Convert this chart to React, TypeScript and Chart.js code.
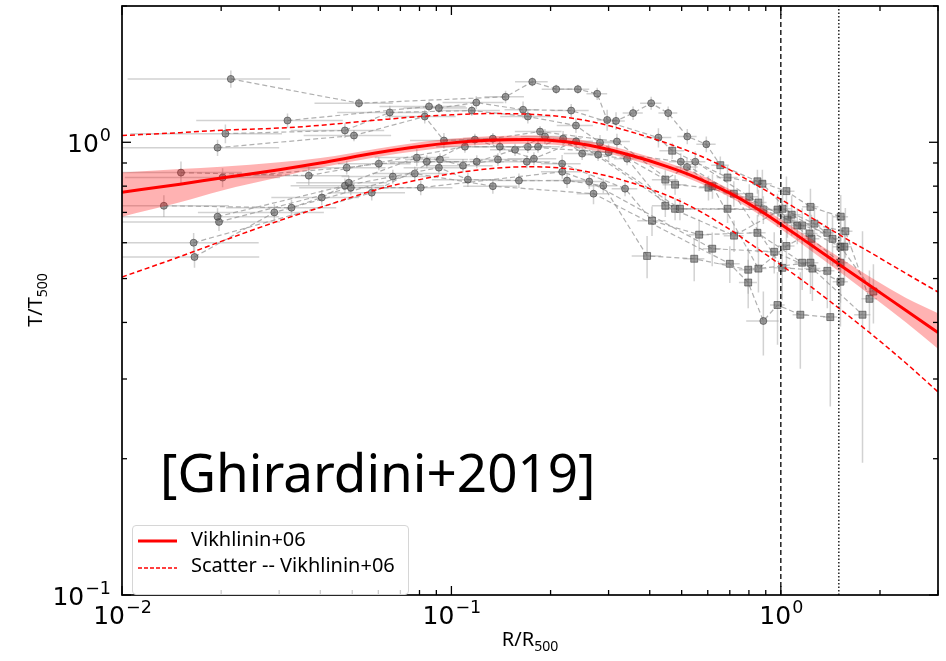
import React, { useEffect, useRef } from "react";
import { Chart, registerables } from "chart.js";
Chart.register(...registerables);

// ---- Model curve (Vikhlinin+06), uncertainty band and scatter envelope, sampled at curveR ----
const curveR = [0.01, 0.015, 0.02, 0.03, 0.04, 0.06, 0.08, 0.1, 0.13, 0.17, 0.22, 0.28, 0.35, 0.45, 0.55, 0.7, 0.85, 1.0, 1.2, 1.5, 1.9, 2.4, 3.0];
const curveT = [0.776, 0.808, 0.834, 0.87, 0.9, 0.949, 0.979, 0.997, 1.01, 1.014, 1.004, 0.975, 0.936, 0.885, 0.838, 0.772, 0.712, 0.659, 0.602, 0.538, 0.478, 0.425, 0.38];
const bandHiT = [0.857, 0.873, 0.883, 0.903, 0.923, 0.969, 1.0, 1.018, 1.031, 1.035, 1.025, 0.995, 0.956, 0.904, 0.856, 0.788, 0.728, 0.676, 0.62, 0.558, 0.5, 0.453, 0.419];
const bandLoT = [0.685, 0.737, 0.782, 0.837, 0.878, 0.929, 0.958, 0.976, 0.989, 0.993, 0.983, 0.955, 0.916, 0.866, 0.82, 0.756, 0.696, 0.643, 0.585, 0.519, 0.456, 0.4, 0.35];
const scatterHiT = [1.035, 1.05, 1.063, 1.075, 1.09, 1.12, 1.14, 1.15, 1.157, 1.154, 1.137, 1.102, 1.055, 0.996, 0.943, 0.869, 0.802, 0.748, 0.691, 0.626, 0.567, 0.513, 0.467];
const scatterLoT = [0.504, 0.559, 0.604, 0.671, 0.718, 0.788, 0.827, 0.852, 0.874, 0.883, 0.876, 0.851, 0.815, 0.764, 0.713, 0.642, 0.582, 0.536, 0.487, 0.43, 0.375, 0.325, 0.281];

// ---- reference radii ----
const r500Dashed = 1.0;
const r200Dotted = 1.5;

// ---- axis ticks ----
const xRange = [0.01, 3.0];
const yRange = [0.1, 2.0];
const xMajor = [0.01, 0.1, 1];
const xMajorExp = ["\u22122", "\u22121", "0"];
const xMinor = [0.02, 0.03, 0.04, 0.05, 0.06, 0.07, 0.08, 0.09, 0.2, 0.3, 0.4, 0.5, 0.6, 0.7, 0.8, 0.9, 2, 3];
const yMajor = [0.1, 1];
const yMajorExp = ["\u22121", "0"];
const yMinor = [0.2, 0.3, 0.4, 0.5, 0.6, 0.7, 0.8, 0.9, 2];

// ---- individual cluster profiles: [r, T, dr, dT, square?] ----
const profA = [
  [0.0214, 1.38, 0.011, 0.06, 0], [0.0524, 1.22, 0.014, 0.03, 0], [0.146, 1.26, 0.02, 0.04, 0],
  [0.176, 1.36, 0.02, 0.03, 0], [0.208, 1.31, 0.02, 0.03, 0], [0.242, 1.31, 0.02, 0.03, 0],
  [0.277, 1.28, 0.02, 0.04, 0], [0.297, 1.12, 0.02, 0.06, 0], [0.316, 1.115, 0.02, 0.05, 0],
  [0.356, 1.16, 0.025, 0.04, 0], [0.404, 1.22, 0.03, 0.04, 0], [0.455, 1.16, 0.03, 0.04, 0],
  [0.52, 1.03, 0.035, 0.04, 0], [0.594, 0.99, 0.04, 0.04, 0], [0.655, 0.89, 0.04, 0.04, 1],
  [0.849, 0.82, 0.05, 0.05, 1], [1.04, 0.78, 0.06, 0.06, 1], [1.23, 0.72, 0.07, 0.07, 1],
  [1.52, 0.685, 0.08, 0.08, 1],
];
const profB = [
  [0.0318, 1.117, 0.015, 0.04, 0], [0.0855, 1.2, 0.025, 0.03, 0], [0.0916, 1.19, 0.02, 0.03, 0],
  [0.119, 1.224, 0.025, 0.04, 0], [0.165, 1.18, 0.02, 0.05, 0], [0.231, 1.175, 0.03, 0.04, 0],
  [0.425, 1.024, 0.04, 0.05, 0], [0.468, 0.958, 0.04, 0.04, 1], [0.689, 0.836, 0.05, 0.05, 1],
  [0.879, 0.81, 0.06, 0.06, 1], [1.079, 0.692, 0.07, 0.07, 1], [1.435, 0.612, 0.08, 0.08, 1],
];
const profC = [
  [0.0206, 1.045, 0.01, 0.05, 0], [0.0475, 1.062, 0.015, 0.04, 0], [0.065, 1.164, 0.02, 0.04, 0],
  [0.1153, 1.175, 0.025, 0.03, 0], [0.1706, 1.14, 0.03, 0.04, 0], [0.2388, 1.089, 0.03, 0.04, 0],
  [0.2825, 0.998, 0.03, 0.04, 0], [0.446, 0.827, 0.04, 0.04, 1], [0.55, 0.906, 0.04, 0.05, 0],
  [0.802, 0.758, 0.05, 0.05, 1], [1.047, 0.675, 0.06, 0.06, 1], [1.57, 0.636, 0.08, 0.08, 1],
  [1.858, 0.451, 0.1, 0.07, 1],
];
const profD = [
  [0.0195, 0.973, 0.0105, 0.04, 0], [0.0506, 1.035, 0.015, 0.03, 0], [0.083, 1.14, 0.02, 0.04, 0],
  [0.0949, 1.009, 0.02, 0.04, 0], [0.1336, 1.019, 0.025, 0.03, 0], [0.1858, 1.056, 0.03, 0.03, 0],
  [0.318, 1.004, 0.03, 0.04, 0], [0.4775, 0.806, 0.04, 0.04, 1], [0.603, 0.794, 0.04, 0.05, 1],
  [0.855, 0.736, 0.05, 0.05, 1], [1.122, 0.655, 0.06, 0.06, 1], [1.517, 0.588, 0.08, 0.08, 1],
  [1.91, 0.468, 0.1, 0.07, 1],
];
const profE = [
  [0.0151, 0.857, 0.008, 0.05, 0], [0.0369, 0.844, 0.012, 0.04, 0], [0.1099, 0.978, 0.02, 0.03, 0],
  [0.1403, 0.978, 0.025, 0.03, 0], [0.1832, 0.978, 0.03, 0.03, 0], [0.2183, 1.019, 0.03, 0.04, 0],
  [0.2494, 0.944, 0.03, 0.03, 0], [0.3414, 0.92, 0.03, 0.03, 0], [0.446, 0.724, 0.04, 0.04, 1],
  [0.721, 0.622, 0.05, 0.05, 1], [1.012, 0.713, 0.06, 0.06, 1], [1.265, 0.661, 0.07, 0.07, 1],
  [1.56, 0.588, 0.08, 0.1, 1],
];
const profF = [
  [0.0202, 0.836, 0.01, 0.04, 0], [0.0481, 0.879, 0.015, 0.03, 0], [0.0602, 0.897, 0.015, 0.03, 0],
  [0.0842, 0.906, 0.02, 0.03, 0], [0.1194, 0.906, 0.025, 0.03, 0], [0.156, 0.963, 0.025, 0.03, 0],
  [0.1923, 1.03, 0.03, 0.04, 0], [0.2788, 0.939, 0.03, 0.03, 0], [0.494, 0.713, 0.04, 0.04, 1],
  [0.689, 0.713, 0.05, 0.05, 1], [0.977, 0.71, 0.06, 0.06, 1], [1.239, 0.612, 0.07, 0.08, 1],
  [1.517, 0.542, 0.08, 0.1, 1],
];
const profG = [
  [0.0134, 0.724, 0.0077, 0.04, 0], [0.0327, 0.717, 0.012, 0.03, 0], [0.0404, 0.755, 0.012, 0.03, 0],
  [0.0488, 0.814, 0.015, 0.03, 0], [0.0785, 0.925, 0.02, 0.04, 0], [0.0923, 0.916, 0.02, 0.03, 0],
  [0.1084, 0.888, 0.025, 0.03, 0], [0.1384, 0.916, 0.025, 0.03, 0], [0.1694, 0.906, 0.03, 0.03, 0],
  [0.2168, 0.897, 0.03, 0.04, 0], [0.3366, 0.79, 0.03, 0.03, 0], [0.4064, 0.671, 0.04, 0.05, 1],
  [0.565, 0.625, 0.04, 0.05, 1], [0.849, 0.631, 0.05, 0.06, 1], [1.161, 0.542, 0.06, 0.07, 1],
  [1.517, 0.492, 0.08, 0.1, 1],
];
const profH = [
  [0.0195, 0.685, 0.0105, 0.03, 0], [0.0475, 0.802, 0.015, 0.03, 0], [0.0664, 0.84, 0.02, 0.03, 0],
  [0.0916, 0.879, 0.02, 0.03, 0], [0.1122, 0.827, 0.025, 0.03, 0], [0.1603, 0.823, 0.025, 0.03, 0],
  [0.2244, 0.823, 0.03, 0.03, 0], [0.2891, 0.802, 0.03, 0.03, 0], [0.3927, 0.561, 0.04, 0.06, 1],
  [0.5458, 0.553, 0.04, 0.06, 1], [0.7962, 0.523, 0.05, 0.06, 1], [1.23, 0.542, 0.07, 0.08, 1],
];
const profI = [
  [0.0197, 0.667, 0.0105, 0.03, 0], [0.0495, 0.794, 0.015, 0.03, 0], [0.0807, 0.794, 0.02, 0.03, 0],
  [0.217, 0.861, 0.03, 0.03, 0], [0.262, 0.819, 0.03, 0.03, 0], [0.619, 0.582, 0.04, 0.05, 1],
  [0.955, 0.573, 0.05, 0.06, 1], [1.247, 0.526, 0.07, 0.08, 1], [1.77, 0.416, 0.1, 0.22, 1],
];
const profJ = [
  [0.0165, 0.6, 0.0095, 0.03, 0], [0.0573, 0.774, 0.015, 0.03, 0], [0.1178, 1.014, 0.025, 0.03, 0],
  [0.178, 0.92, 0.03, 0.03, 0], [0.239, 1.005, 0.03, 0.03, 0], [0.4775, 0.713, 0.04, 0.04, 1],
  [0.885, 0.71, 0.05, 0.05, 1], [1.161, 0.655, 0.06, 0.06, 1], [1.384, 0.631, 0.07, 0.07, 1],
];
const profK = [
  [0.0166, 0.558, 0.0095, 0.03, 0], [0.029, 0.7, 0.012, 0.03, 0], [0.0774, 0.853, 0.02, 0.03, 0],
  [0.1336, 0.8, 0.025, 0.03, 0], [0.27, 0.77, 0.03, 0.04, 0], [0.7, 0.539, 0.05, 0.05, 1],
  [0.796, 0.49, 0.05, 0.06, 1], [0.885, 0.403, 0.1, 0.065, 0], [0.977, 0.437, 0.05, 0.08, 1],
  [1.146, 0.416, 0.06, 0.1, 1], [1.413, 0.411, 0.07, 0.15, 1],
];
const profL = [
  [0.1706, 0.977, 0.03, 0.03, 0], [0.3, 0.95, 0.03, 0.04, 0], [0.497, 0.906, 0.04, 0.04, 0],
  [0.72, 0.77, 0.05, 0.05, 1], [1.01, 0.528, 0.06, 0.08, 1], [1.384, 0.52, 0.07, 0.09, 1],
];
const profM = [
  [0.519, 0.882, 0.04, 0.04, 0], [0.62, 0.8, 0.04, 0.05, 1], [0.855, 0.526, 0.05, 0.06, 1],
  [1.04, 0.59, 0.06, 0.07, 1], [1.222, 0.629, 0.07, 0.08, 1],
];
const profiles = [profA, profB, profC, profD, profE, profF, profG, profH, profI, profJ, profK, profL, profM];

const pairs = (xs: number[], ys: number[]) => xs.map((x, i) => ({ x, y: ys[i] }));

const mplAxes = {
  id: "mplAxes",
  beforeDatasetsDraw(chart: any) {
    const { ctx, chartArea: a, scales } = chart;
    const sx = scales.x, sy = scales.y;
    ctx.save();
    ctx.beginPath();
    ctx.rect(a.left, a.top, a.right - a.left, a.bottom - a.top);
    ctx.clip();
    ctx.strokeStyle = "rgba(165,165,165,0.5)";
    ctx.lineWidth = 1.5;
    profiles.forEach((p) =>
      p.forEach(([r, t, dr, dt]) => {
        const px = sx.getPixelForValue(r);
        const py = sy.getPixelForValue(t);
        ctx.beginPath();
        ctx.moveTo(sx.getPixelForValue(Math.max(r - dr, 1e-4)), py);
        ctx.lineTo(sx.getPixelForValue(r + dr), py);
        ctx.moveTo(px, sy.getPixelForValue(Math.max(t - dt, 1e-3)));
        ctx.lineTo(px, sy.getPixelForValue(t + dt));
        ctx.stroke();
      })
    );
    ctx.restore();
  },
  afterDraw(chart: any) {
    const { ctx, chartArea: a, scales } = chart;
    const sx = scales.x, sy = scales.y;
    ctx.save();
    ctx.strokeStyle = "#000";
    ctx.lineWidth = 1.3;
    const tick = (x0: number, y0: number, x1: number, y1: number) => {
      ctx.beginPath();
      ctx.moveTo(x0, y0);
      ctx.lineTo(x1, y1);
      ctx.stroke();
    };
    const maj = 9, mnr = 5;
    xMajor.forEach((v) => { const p = sx.getPixelForValue(v); tick(p, a.bottom, p, a.bottom - maj); tick(p, a.top, p, a.top + maj); });
    xMinor.forEach((v) => { const p = sx.getPixelForValue(v); tick(p, a.bottom, p, a.bottom - mnr); tick(p, a.top, p, a.top + mnr); });
    yMajor.forEach((v) => { const p = sy.getPixelForValue(v); tick(a.left, p, a.left + maj, p); tick(a.right, p, a.right - maj, p); });
    yMinor.forEach((v) => { const p = sy.getPixelForValue(v); tick(a.left, p, a.left + mnr, p); tick(a.right, p, a.right - mnr, p); });
    ctx.lineWidth = 1.7;
    ctx.strokeRect(a.left, a.top, a.right - a.left, a.bottom - a.top);

    // tick labels 10^n
    const big = '25px "DejaVu Sans"';
    const small = '17.5px "DejaVu Sans"';
    ctx.fillStyle = "#000";
    ctx.textBaseline = "alphabetic";
    ctx.textAlign = "left";
    const label = (exp: string, cx: number | null, rightX: number | null, base: number) => {
      ctx.font = big;
      const w1 = ctx.measureText("10").width;
      ctx.font = small;
      const w2 = ctx.measureText(exp).width;
      const start = rightX !== null ? rightX - w1 - w2 : (cx as number) - (w1 + w2) / 2;
      ctx.font = big;
      ctx.fillText("10", start, base);
      ctx.font = small;
      ctx.fillText(exp, start + w1 + 1, base - 11);
    };
    xMajor.forEach((v, i) => label(xMajorExp[i], sx.getPixelForValue(v), null, a.bottom + 29));
    yMajor.forEach((v, i) => label(yMajorExp[i], null, a.left - 12, sy.getPixelForValue(v) + 9.5));
    ctx.restore();
  },
};

export default function App() {
  const ref = useRef<HTMLCanvasElement>(null);
  useEffect(() => {
    document.body.style.margin = "0";
    const redLine = (data: any[], extra: any) => ({
      data, showLine: true, pointRadius: 0, borderColor: "#ff0000", tension: 0.4,
      cubicInterpolationMode: "monotone", clip: 0, fill: false, ...extra,
    });
    const chart = new Chart(ref.current as HTMLCanvasElement, {
      type: "scatter",
      data: {
        datasets: [
          { data: [{ x: r500Dashed, y: yRange[0] }, { x: r500Dashed, y: yRange[1] }], showLine: true, pointRadius: 0,
            borderColor: "#000", borderWidth: 1.3, borderDash: [5, 3], clip: 0 },
          { data: [{ x: r200Dotted, y: yRange[0] }, { x: r200Dotted, y: yRange[1] }], showLine: true, pointRadius: 0,
            borderColor: "#000", borderWidth: 1.3, borderDash: [1.5, 2], clip: 0 },
          redLine(pairs(curveR, curveT), { borderWidth: 3 }),
          redLine(pairs(curveR, bandHiT), { borderWidth: 0, fill: "+1", backgroundColor: "rgba(255,0,0,0.3)" }),
          redLine(pairs(curveR, bandLoT), { borderWidth: 0 }),
          redLine(pairs(curveR, scatterHiT), { borderWidth: 1.5, borderDash: [5, 3] }),
          redLine(pairs(curveR, scatterLoT), { borderWidth: 1.5, borderDash: [5, 3] }),
          ...profiles.map((p) => ({
            data: p.map((q) => ({ x: q[0], y: q[1] })),
            showLine: true,
            borderColor: "rgba(150,150,150,0.75)",
            borderWidth: 1.2,
            borderDash: [5, 3],
            pointStyle: p.map((q) => (q[4] ? "rect" : "circle")),
            pointRadius: p.map((q) => (q[4] ? 4.9 : 3.5)),
            pointBackgroundColor: "rgba(90,90,90,0.58)",
            pointBorderColor: "rgba(60,60,60,0.6)",
            pointBorderWidth: 1,
            clip: 0,
          })),
        ],
      },
      options: {
        animation: false,
        responsive: false,
        events: [],
        layout: { padding: { left: 122, right: 8, top: 6, bottom: 66 } },
        scales: {
          x: { type: "logarithmic", min: xRange[0], max: xRange[1], display: false },
          y: { type: "logarithmic", min: yRange[0], max: yRange[1], display: false },
        },
        plugins: { legend: { display: false }, tooltip: { enabled: false } },
      },
      plugins: [mplAxes],
    } as any);
    return () => chart.destroy();
  }, []);

  const font = '"Noto Sans", "Open Sans", sans-serif';
  return (
    <div style={{ position: "relative", width: 946, height: 661, fontFamily: font }}>
      <canvas ref={ref} width={946} height={661} style={{ display: "block" }} />
      <div style={{ position: "absolute", left: 160, top: 445, fontSize: 53, lineHeight: "53px", whiteSpace: "nowrap", color: "#000" }}>
        [Ghirardini+2019]
      </div>
      <div style={{ position: "absolute", left: 132, top: 525, width: 277, height: 70, boxSizing: "border-box",
        border: "1px solid #d6d6d6", borderRadius: 4, background: "rgba(255,255,255,0.8)" }}>
        <svg width={50} height={60} style={{ position: "absolute", left: 0, top: 0 }}>
          <line x1={5} y1={15} x2={44} y2={15} stroke="#ff0000" strokeWidth={3} />
          <line x1={5} y1={42} x2={44} y2={42} stroke="#ff0000" strokeWidth={1.3} strokeDasharray="4 2" />
        </svg>
        <div style={{ position: "absolute", left: 58, top: 3, fontSize: 20, lineHeight: "20px", whiteSpace: "nowrap" }}>Vikhlinin+06</div>
        <div style={{ position: "absolute", left: 58, top: 29, fontSize: 20, lineHeight: "20px", whiteSpace: "nowrap" }}>Scatter -- Vikhlinin+06</div>
      </div>
      <div style={{ position: "absolute", left: 430, width: 200, top: 629, textAlign: "center", fontSize: 20, lineHeight: "20px" }}>
        R/R<span style={{ fontSize: 14, position: "relative", top: 5 }}>500</span>
      </div>
      <div style={{ position: "absolute", left: 35, top: 300, width: 0, height: 0 }}>
        <div style={{ position: "absolute", left: -100, top: -10, width: 200, textAlign: "center", fontSize: 20, lineHeight: "20px",
          transform: "rotate(-90deg)", transformOrigin: "100px 10px" }}>
          T/T<span style={{ fontSize: 14, position: "relative", top: 5 }}>500</span>
        </div>
      </div>
    </div>
  );
}
